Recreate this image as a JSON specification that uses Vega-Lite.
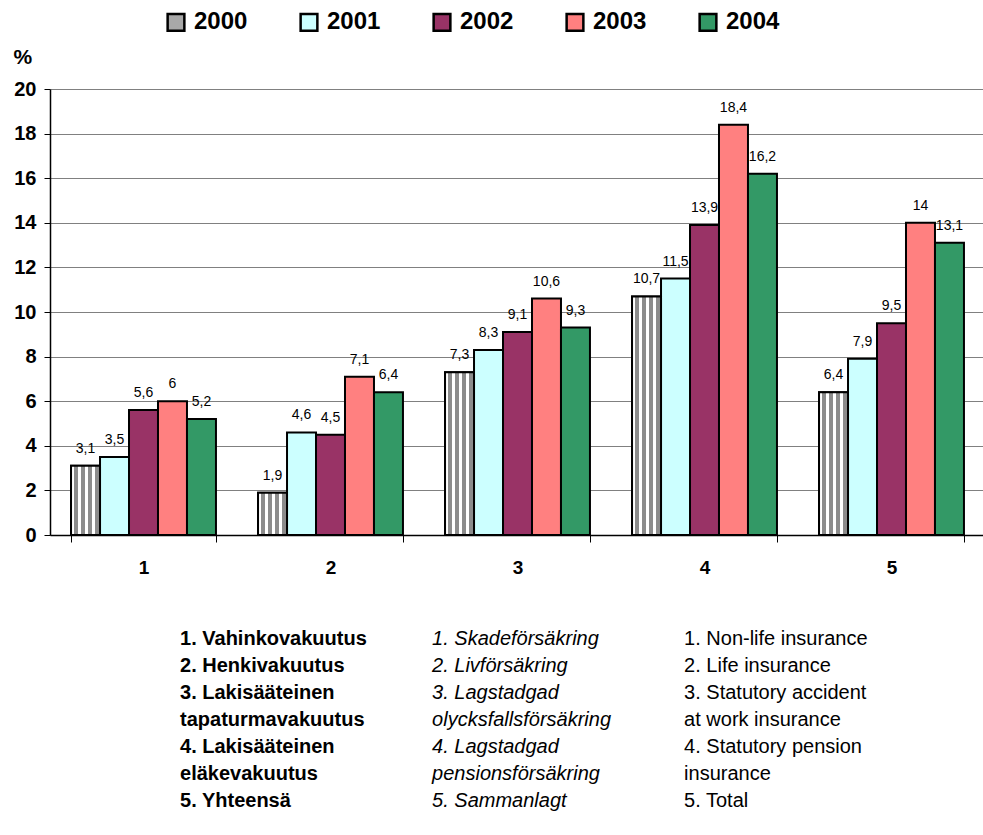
{
  "$schema": "https://vega.github.io/schema/vega-lite/v6.json",
  "padding": {"left": 13, "top": 10, "right": 0, "bottom": 0},
  "background": "white",
  "config": {
    "font": "Liberation Sans",
    "view": {"stroke": null},
    "locale": {"number": {"decimal": ",", "thousands": " ", "grouping": [3], "currency": ["", ""]}},
    "concat": {"spacing": 49}
  },
  "datasets": {
    "bars": [
      {"cat": "1", "year": "2000", "value": 3.1},
      {"cat": "1", "year": "2001", "value": 3.5},
      {"cat": "1", "year": "2002", "value": 5.6},
      {"cat": "1", "year": "2003", "value": 6.0},
      {"cat": "1", "year": "2004", "value": 5.2},
      {"cat": "2", "year": "2000", "value": 1.9},
      {"cat": "2", "year": "2001", "value": 4.6},
      {"cat": "2", "year": "2002", "value": 4.5},
      {"cat": "2", "year": "2003", "value": 7.1},
      {"cat": "2", "year": "2004", "value": 6.4},
      {"cat": "3", "year": "2000", "value": 7.3},
      {"cat": "3", "year": "2001", "value": 8.3},
      {"cat": "3", "year": "2002", "value": 9.1},
      {"cat": "3", "year": "2003", "value": 10.6},
      {"cat": "3", "year": "2004", "value": 9.3},
      {"cat": "4", "year": "2000", "value": 10.7},
      {"cat": "4", "year": "2001", "value": 11.5},
      {"cat": "4", "year": "2002", "value": 13.9},
      {"cat": "4", "year": "2003", "value": 18.4},
      {"cat": "4", "year": "2004", "value": 16.2},
      {"cat": "5", "year": "2000", "value": 6.4},
      {"cat": "5", "year": "2001", "value": 7.9},
      {"cat": "5", "year": "2002", "value": 9.5},
      {"cat": "5", "year": "2003", "value": 14.0},
      {"cat": "5", "year": "2004", "value": 13.1}
    ],
    "notes": [
      {"col": 0, "row": 1, "text": "1. Vahinkovakuutus"},
      {"col": 0, "row": 2, "text": "2. Henkivakuutus"},
      {"col": 0, "row": 3, "text": "3. Lakisääteinen"},
      {"col": 0, "row": 4, "text": "tapaturmavakuutus"},
      {"col": 0, "row": 5, "text": "4. Lakisääteinen"},
      {"col": 0, "row": 6, "text": "eläkevakuutus"},
      {"col": 0, "row": 7, "text": "5. Yhteensä"},
      {"col": 1, "row": 1, "text": "1. Skadeförsäkring"},
      {"col": 1, "row": 2, "text": "2. Livförsäkring"},
      {"col": 1, "row": 3, "text": "3. Lagstadgad"},
      {"col": 1, "row": 4, "text": "olycksfallsförsäkring"},
      {"col": 1, "row": 5, "text": "4. Lagstadgad"},
      {"col": 1, "row": 6, "text": "pensionsförsäkring"},
      {"col": 1, "row": 7, "text": "5. Sammanlagt"},
      {"col": 2, "row": 1, "text": "1. Non-life insurance"},
      {"col": 2, "row": 2, "text": "2. Life insurance"},
      {"col": 2, "row": 3, "text": "3. Statutory accident"},
      {"col": 2, "row": 4, "text": "at work insurance"},
      {"col": 2, "row": 5, "text": "4. Statutory pension"},
      {"col": 2, "row": 6, "text": "insurance"},
      {"col": 2, "row": 7, "text": "5. Total"}
    ]
  },
  "vconcat": [
    {
      "width": 935,
      "height": 446,
      "data": {"name": "bars"},
      "encoding": {
        "x": {
          "field": "cat", "type": "nominal",
          "scale": {"paddingInner": 0.225, "paddingOuter": 0.1125},
          "axis": {
            "title": null, "labelAngle": 0, "labelFontSize": 19, "labelFontWeight": "bold",
            "labelColor": "black", "labelPadding": 16, "domainColor": "black", "domainWidth": 1.5,
            "tickColor": "black", "tickSize": 7, "tickBand": "extent", "grid": false
          }
        },
        "xOffset": {"field": "year", "type": "nominal", "scale": {"paddingInner": 0, "paddingOuter": 0}},
        "y": {
          "field": "value", "type": "quantitative",
          "scale": {"domain": [0, 20]},
          "axis": {
            "title": "%", "titleAngle": 0, "titleAlign": "left", "titleBaseline": "middle",
            "titleX": -37, "titleY": -32, "titleFontSize": 21, "titleFontWeight": "bold", "titleColor": "black",
            "values": [0, 2, 4, 6, 8, 10, 12, 14, 16, 18, 20],
            "labelFontSize": 20, "labelFontWeight": "bold", "labelColor": "black", "labelPadding": 8,
            "domainColor": "black", "domainWidth": 1.5, "tickColor": "black", "tickSize": 6,
            "gridColor": "#808080", "gridWidth": 1.2
          }
        }
      },
      "layer": [
        {
          "mark": {"type": "bar", "stroke": "black", "strokeWidth": 2},
          "encoding": {
            "color": {
              "field": "year", "type": "nominal",
              "scale": {"domain": ["2000", "2001", "2002", "2003", "2004"], "range": ["#A8A8A8", "#CCFFFF", "#993366", "#FF8080", "#339966"]},
              "legend": {
                "title": null, "orient": "none", "legendX": 114, "legendY": -79,
                "direction": "horizontal", "columns": 5, "padding": 0,
                "symbolType": "square", "symbolSize": 280, "symbolStrokeColor": "black", "symbolStrokeWidth": 2.5,
                "symbolOpacity": 1,
                "labelFontSize": 24, "labelFontWeight": "bold", "labelColor": "black", "labelOffset": 6,
                "columnPadding": 47
              }
            }
          }
        },
        {
          "transform": [{"filter": "datum.year === '2000'"}],
          "mark": {
            "type": "bar", "stroke": "black", "strokeWidth": 2,
            "fill": {
              "gradient": "linear", "x1": 0, "x2": 1, "y1": 0, "y2": 0,
              "stops": [
                {"offset": 0, "color": "#ffffff"},
                {"offset": 0.1, "color": "#ffffff"},
                {"offset": 0.1, "color": "#8c8c8c"},
                {"offset": 0.24, "color": "#8c8c8c"},
                {"offset": 0.24, "color": "#ffffff"},
                {"offset": 0.34, "color": "#ffffff"},
                {"offset": 0.34, "color": "#8c8c8c"},
                {"offset": 0.48, "color": "#8c8c8c"},
                {"offset": 0.48, "color": "#ffffff"},
                {"offset": 0.58, "color": "#ffffff"},
                {"offset": 0.58, "color": "#8c8c8c"},
                {"offset": 0.72, "color": "#8c8c8c"},
                {"offset": 0.72, "color": "#ffffff"},
                {"offset": 0.82, "color": "#ffffff"},
                {"offset": 0.82, "color": "#8c8c8c"},
                {"offset": 0.96, "color": "#8c8c8c"},
                {"offset": 0.96, "color": "#ffffff"},
                {"offset": 1, "color": "#ffffff"}
              ]
            }
          }
        },
        {
          "mark": {"type": "text", "baseline": "bottom", "dy": -10, "fontSize": 14, "color": "black"},
          "encoding": {"text": {"field": "value", "type": "quantitative", "format": ".1~f"}}
        }
      ]
    },
    {
      "width": 935,
      "height": 188,
      "data": {"name": "notes"},
      "encoding": {
        "x": {"field": "col", "type": "quantitative", "scale": {"domain": [-0.516, 3.194]}, "axis": null},
        "y": {"field": "row", "type": "ordinal", "scale": {"type": "point", "padding": 0.5}, "axis": null},
        "text": {"field": "text"}
      },
      "layer": [
        {"transform": [{"filter": "datum.col === 0"}], "mark": {"type": "text", "align": "left", "baseline": "middle", "fontSize": 20, "fontWeight": "bold", "color": "black"}},
        {"transform": [{"filter": "datum.col === 1"}], "mark": {"type": "text", "align": "left", "baseline": "middle", "fontSize": 20, "fontStyle": "italic", "color": "black"}},
        {"transform": [{"filter": "datum.col === 2"}], "mark": {"type": "text", "align": "left", "baseline": "middle", "fontSize": 20, "color": "black"}}
      ]
    }
  ]
}
